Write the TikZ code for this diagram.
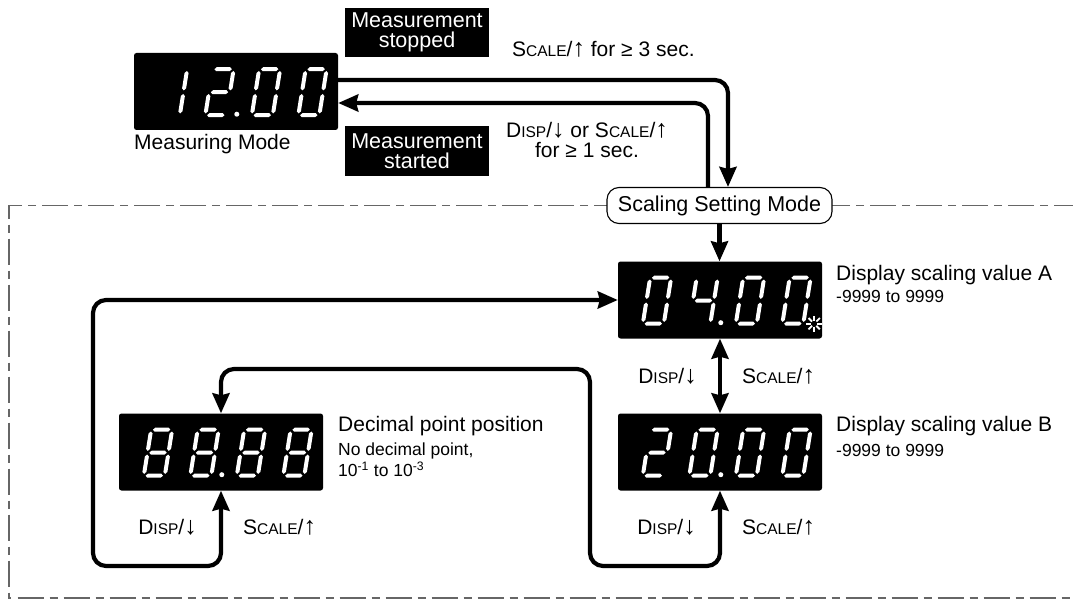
\documentclass[tikz,border=0pt]{standalone}
\usepackage{fontspec}
\setmainfont{Liberation Sans}
\usetikzlibrary{arrows.meta,calc}

\newcommand\hseg[3]{\fill[white] (#1,#3) -- (#1+2,#3+2) -- (#2-2,#3+2) -- (#2,#3) -- (#2-2,#3-2) -- (#1+2,#3-2) -- cycle;}
\newcommand\vseg[3]{\fill[white] (#1,#2) -- (#1+2,#2+2) -- (#1+2,#3-2) -- (#1,#3) -- (#1-2,#3-2) -- (#1-2,#2+2) -- cycle;}
\newcommand\SEGa{\hseg{1.8}{19.2}{46}}
\newcommand\SEGg{\hseg{1.8}{19.2}{23}}
\newcommand\SEGd{\hseg{1.8}{19.2}{0}}
\newcommand\SEGb{\vseg{21}{24.8}{44.2}}
\newcommand\SEGc{\vseg{21}{1.8}{21.2}}
\newcommand\SEGe{\vseg{0}{1.8}{21.2}}
\newcommand\SEGf{\vseg{0}{24.8}{44.2}}
\newcommand\digitat[3]{\begin{scope}[shift={($(#1.south west)+(25+46.5*#2,-15)$)},x=1pt,y=1pt,xslant=0.16]\foreach \s in {#3}{\csname SEG\s\endcsname}\end{scope}}
\newcommand\dotat[1]{\fill[white] ($(#1.south west)+(103,-16)$) circle (2.5pt);}
\newcommand\SC[2]{#1{\fontsize{15.5}{15.5}\selectfont #2}}
\newcommand\uarr{{\fontsize{25}{20}\selectfont ↑}}
\newcommand\darr{{\fontsize{25}{20}\selectfont ↓}}

\begin{document}
\begin{tikzpicture}[x=1pt,y=-1pt,
  disp/.style={fill=black, rounded corners=2.5pt, minimum width=204pt, minimum height=77pt, inner sep=0pt},
  msgbox/.style={fill=black, text=white, align=center, minimum width=144pt, minimum height=49pt, inner sep=0pt, font=\fontsize{21.5}{20.5}\selectfont},
  ssmbox/.style={draw=black, line width=1.1pt, fill=white, rounded corners=12pt, minimum width=225pt, minimum height=36pt, inner sep=0pt, font=\fontsize{21.5}{24}\selectfont},
  lbl/.style={inner sep=0pt, font=\fontsize{21}{20}\selectfont},
  sml/.style={inner sep=0pt, font=\fontsize{17.5}{20}\selectfont},
  conn/.style={line width=4.2pt, rounded corners=13pt},
  >={Stealth[length=20pt,width=17pt,inset=2pt]},
  frame/.style={draw=black!60, line width=1.3pt, dash pattern=on 26pt off 6pt on 8pt off 6pt}]
\useasboundingbox (0,0) rectangle (1073,599);

% dash-dot frame
\draw[frame] (1080,205.5) -- (9,205.5) -- (9,598) -- (1080,598);

% displays
\node[disp] (meas) at (236,91.5) {};
\node[disp] (dA) at (720,300) {};
\node[disp] (dB) at (720,452) {};
\node[disp] (dD) at (221,452) {};

% 12.00
\digitat{meas}{0}{b,c}
\digitat{meas}{1}{a,b,g,e,d}
\digitat{meas}{2}{a,b,c,d,e,f}
\digitat{meas}{3}{a,b,c,d,e,f}
\dotat{meas}
% 04.00
\digitat{dA}{0}{a,b,c,d,e,f}
\digitat{dA}{1}{f,g,b,c}
\digitat{dA}{2}{a,b,c,d,e,f}
\digitat{dA}{3}{a,b,c,d,e,f}
\dotat{dA}
\coordinate (blink) at ($(dA.south east)+(-8,-15)$);
\fill[black] (blink) circle (5pt);
\foreach \a in {0,45,...,315}
  \draw[white, line width=1.8pt] ($(blink)+(\a:3)$) -- ($(blink)+(\a:8)$);
% 20.00
\digitat{dB}{0}{a,b,g,e,d}
\digitat{dB}{1}{a,b,c,d,e,f}
\digitat{dB}{2}{a,b,c,d,e,f}
\digitat{dB}{3}{a,b,c,d,e,f}
\dotat{dB}
% 88.88
\digitat{dD}{0}{a,b,c,d,e,f,g}
\digitat{dD}{1}{a,b,c,d,e,f,g}
\digitat{dD}{2}{a,b,c,d,e,f,g}
\digitat{dD}{3}{a,b,c,d,e,f,g}
\dotat{dD}

% message boxes
\node[msgbox] (stop) at (417,32.5) {Measurement\\stopped};
\node[msgbox] (start) at (417,151) {Measurement\\started};

% scaling setting mode
\node[ssmbox] (ssm) at (719.5,205.5) {Scaling Setting Mode};

% connectors
\draw[conn,->] ($(meas.east)+(0,-11.5)$) -| ($(ssm.north)+(8.5,0)$);
\draw[conn,->] ($(ssm.north)+(-11.5,0)$) |- ($(meas.east)+(0,11.5)$);
\draw[conn,->] (ssm.south) -- (ssm.south |- dA.north);
\draw[conn,<->] (dA.south) -- (dB.north);
\coordinate (lp) at (93,566);
\draw[conn,<->] (dD.south) |- (lp) |- (dA.west);
\coordinate (rp1) at (590,369);
\coordinate (rp2) at (590,566);
\draw[conn,<->] (dD.north) |- (rp1) -- (rp2) -| (dB.south);

% labels
\node[lbl, anchor=base west] at (134,149.3) {Measuring Mode};
\node[lbl, anchor=base west] at (512,56.7) {\SC{S}{CALE}/\uarr{} for ≥ 3 sec.};
\node[lbl, align=center] at (587,140) {\SC{D}{ISP}/\darr{} or \SC{S}{CALE}/\uarr\\for ≥ 1 sec.};

\node[lbl, anchor=base west] at (836,280) {Display scaling value A};
\node[sml, anchor=base west] at (836,302.7) {-9999 to 9999};
\node[lbl, anchor=base west] at (836,431.7) {Display scaling value B};
\node[sml, anchor=base west] at (836,456) {-9999 to 9999};
\node[lbl, anchor=base west] at (338,431.7) {Decimal point position};
\node[sml, anchor=base west] at (338,455.7) {No decimal point,};
\node[sml, anchor=base west] at (338,476.7) {10\textsuperscript{-1} to 10\textsuperscript{-3}};

\node[lbl, anchor=east] at ($(dA.south)!0.5!(dB.north)+(-23,0)$) {\SC{D}{ISP}/\darr};
\node[lbl, anchor=west] at ($(dA.south)!0.5!(dB.north)+(22,0)$) {\SC{S}{CALE}/\uarr};
\node[lbl, anchor=east] at ($(dD.south)+(-24,37)$) {\SC{D}{ISP}/\darr};
\node[lbl, anchor=west] at ($(dD.south)+(22,37)$) {\SC{S}{CALE}/\uarr};
\node[lbl, anchor=east] at ($(dB.south)+(-24,37)$) {\SC{D}{ISP}/\darr};
\node[lbl, anchor=west] at ($(dB.south)+(22,37)$) {\SC{S}{CALE}/\uarr};
\end{tikzpicture}
\end{document}
